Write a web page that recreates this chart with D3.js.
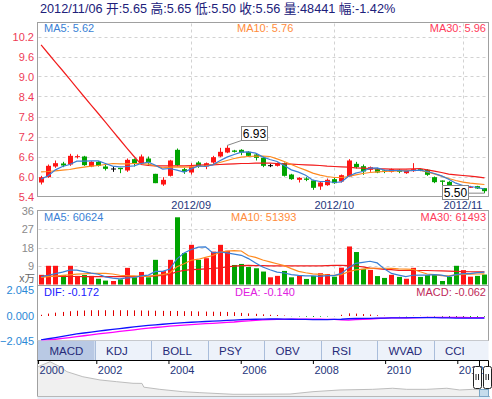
<!DOCTYPE html>
<html>
<head>
<meta charset="utf-8">
<script src="https://cdn.jsdelivr.net/npm/d3@7"></script>
<style>
body { margin: 0; background: #fff; }
svg { display: block; font-family: "Liberation Sans", Arial, "Noto Sans CJK SC", sans-serif; }
</style>
</head>
<body>
<svg id="chart"></svg>
<script>
// trading days shown in the window
var dates = [
  "2012-08-03",
  "2012-08-06","2012-08-07","2012-08-08","2012-08-09","2012-08-10",
  "2012-08-13","2012-08-14","2012-08-15","2012-08-16","2012-08-17",
  "2012-08-20","2012-08-21","2012-08-22","2012-08-23","2012-08-24",
  "2012-08-27","2012-08-28","2012-08-29","2012-08-30","2012-08-31",
  "2012-09-03","2012-09-04","2012-09-05","2012-09-06","2012-09-07",
  "2012-09-10","2012-09-11","2012-09-12","2012-09-13","2012-09-14",
  "2012-09-17","2012-09-18","2012-09-19","2012-09-20","2012-09-21",
  "2012-09-24","2012-09-25","2012-09-26","2012-09-27","2012-09-28",
  "2012-10-08","2012-10-09","2012-10-10","2012-10-11","2012-10-12",
  "2012-10-15","2012-10-16","2012-10-17","2012-10-18","2012-10-19",
  "2012-10-22","2012-10-23","2012-10-24","2012-10-25","2012-10-26",
  "2012-10-29","2012-10-30","2012-10-31",
  "2012-11-01","2012-11-02","2012-11-05","2012-11-06"
]

var opens = [5.82,5.98,6.30,6.39,6.36,6.59,6.60,6.30,6.44,6.30,
             6.24,6.26,6.18,6.52,6.40,6.54,6.08,5.76,6.02,6.80,
             6.22,6.12,6.42,6.30,6.42,6.60,6.72,6.78,6.80,6.74,
             6.66,6.56,6.34,6.32,6.40,6.06,5.90,5.94,5.88,5.70,
             5.74,5.92,5.85,6.00,6.38,6.31,6.20,6.22,6.18,6.14,
             6.20,6.10,6.16,6.22,6.20,5.98,5.88,5.84,5.73,5.63,
             5.68,5.71,5.65]
var highs = [6.02,6.36,6.48,6.44,6.68,6.66,6.62,6.46,6.46,6.36,
             6.30,6.26,6.54,6.54,6.66,6.60,6.08,5.98,6.50,6.84,
             6.26,6.40,6.46,6.42,6.62,6.86,6.93,6.80,6.82,6.76,
             6.70,6.60,6.38,6.42,6.42,6.08,5.98,5.98,5.90,5.84,
             5.94,5.98,6.06,6.52,6.44,6.36,6.30,6.26,6.20,6.24,
             6.22,6.20,6.40,6.24,6.22,6.00,5.88,5.86,5.74,5.72,
             5.72,5.72,5.65]
var lows = [5.76,5.96,6.26,6.28,6.32,6.54,6.32,6.28,6.30,6.18,
            6.14,6.10,6.14,6.30,6.38,6.32,5.80,5.72,6.00,6.30,
            6.08,6.06,6.26,6.22,6.38,6.58,6.70,6.72,6.64,6.60,
            6.48,6.28,6.28,6.30,6.00,5.90,5.82,5.86,5.60,5.60,
            5.72,5.78,5.82,5.98,6.24,6.05,6.14,6.10,6.10,6.12,
            6.10,6.08,6.14,6.16,6.02,5.80,5.74,5.64,5.58,5.60,
            5.66,5.63,5.50]
var closes = [5.98,6.32,6.40,6.33,6.62,6.61,6.34,6.44,6.32,6.23,
              6.24,6.22,6.50,6.40,6.60,6.42,5.80,5.90,6.48,6.34,
              6.14,6.30,6.32,6.40,6.58,6.74,6.86,6.74,6.72,6.62,
              6.56,6.32,6.34,6.40,6.02,5.92,5.96,5.90,5.66,5.82,
              5.90,5.80,6.04,6.48,6.28,6.15,6.28,6.12,6.14,6.22,
              6.14,6.18,6.22,6.18,6.05,5.83,5.84,5.68,5.60,5.71,
              5.69,5.64,5.56]
// volume in units of 10,000 shares (x万)
var volumes = [4.7,9.1,9.1,4.6,9.1,4.2,4.6,4.2,2.8,1.9,
               1.7,2.5,8.1,3.5,6.1,3.5,12.0,6.5,12.0,32.7,
               15.3,19.3,12.0,12.8,16.0,19.3,16.4,9.5,10.0,8.5,
               7.9,6.3,3.5,4.2,6.6,3.5,4.2,2.7,4.2,5.5,
               5.1,3.8,8.2,18.5,15.8,7.6,7.1,4.1,3.2,4.7,
               3.7,2.8,8.1,3.7,4.6,4.7,1.7,3.7,9.1,7.0,
               3.8,4.2,4.8441]

var ma5 = [5.92,6.02,6.20,6.30,6.36,6.46,6.46,6.47,6.47,6.39,
           6.31,6.29,6.30,6.32,6.39,6.43,6.34,6.22,6.24,6.19,
           6.13,6.23,6.32,6.30,6.35,6.47,6.58,6.66,6.73,6.74,
           6.70,6.59,6.51,6.45,6.33,6.20,6.13,6.04,5.89,5.85,
           5.85,5.82,5.84,6.01,6.10,6.15,6.25,6.26,6.19,6.18,
           6.18,6.16,6.18,6.19,6.15,6.09,6.02,5.92,5.80,5.73,
           5.70,5.67,5.62]
var ma10 = [6.14,6.15,6.17,6.19,6.21,6.25,6.28,6.31,6.33,6.36,
            6.39,6.38,6.38,6.39,6.39,6.37,6.32,6.26,6.28,6.29,
            6.28,6.29,6.30,6.32,6.36,6.42,6.48,6.54,6.58,6.60,
            6.61,6.61,6.60,6.53,6.45,6.36,6.27,6.19,6.10,6.04,
            6.00,5.97,5.97,6.00,6.05,6.09,6.12,6.14,6.15,6.16,
            6.17,6.18,6.18,6.18,6.14,6.08,6.01,5.94,5.88,5.83,
            5.80,5.78,5.76]
var ma30 = [9.95,9.69,9.43,9.18,8.92,8.66,8.40,8.14,7.89,7.63,
            7.37,7.11,6.85,6.60,6.36,6.33,6.32,6.32,6.32,6.32,
            6.32,6.33,6.34,6.35,6.35,6.36,6.37,6.38,6.39,6.39,
            6.40,6.40,6.40,6.39,6.38,6.37,6.36,6.35,6.34,6.33,
            6.31,6.30,6.29,6.28,6.26,6.25,6.24,6.23,6.23,6.22,
            6.22,6.22,6.23,6.24,6.20,6.16,6.12,6.07,6.05,6.03,
            6.01,5.99,5.96]

var vma5 = [3.8,4.5,5.3,6.0,7.0,7.0,6.3,5.5,5.0,3.7,
            3.1,2.7,3.2,3.4,4.2,4.6,6.4,6.4,7.5,12.5,
            15.3,17.0,18.2,18.3,15.4,15.8,15.4,14.8,14.2,12.6,
            10.5,8.5,7.2,6.0,5.6,4.8,4.4,4.2,4.2,4.0,
            4.3,4.3,5.4,8.2,10.3,10.8,11.3,10.5,7.6,5.4,
            4.6,3.8,4.5,4.6,4.6,4.8,4.6,3.8,4.8,5.3,
            5.3,5.8,6.0624]
var vma10 = [3.5,3.8,4.1,4.4,4.7,5.0,5.2,5.4,5.4,5.4,
             5.1,4.5,4.3,4.2,4.0,3.9,4.5,4.8,5.6,8.6,
             10.1,11.8,12.3,13.2,14.1,15.6,16.2,16.5,16.3,14.0,
             13.2,11.9,11.0,10.1,9.2,7.7,6.4,5.7,5.2,4.9,
             4.6,4.4,4.8,6.2,7.1,7.5,7.8,7.9,7.9,7.8,
             7.6,7.5,7.4,6.2,5.1,4.8,4.3,4.2,4.7,4.9,
             5.0,5.1,5.1393]
var vma30 = [4.2,4.1,4.0,3.9,3.9,3.9,3.8,3.8,3.8,3.8,
             3.8,3.8,3.8,3.8,3.9,4.0,4.2,4.4,4.9,6.2,
             6.9,7.2,7.4,7.6,7.8,8.1,8.6,8.9,9.2,9.3,
             9.2,9.2,9.1,9.1,9.1,9.1,9.1,9.1,9.1,9.1,
             9.2,9.3,9.3,9.2,9.0,8.6,8.0,7.7,7.4,7.2,
             6.9,6.8,6.8,6.8,6.8,6.7,6.6,6.5,6.4,6.3,
             6.2,6.15,6.1493]

var dif = [-2.00,-1.90,-1.80,-1.70,-1.60,-1.50,-1.42,-1.34,-1.26,-1.19,
           -1.12,-1.05,-0.98,-0.91,-0.84,-0.79,-0.74,-0.69,-0.64,-0.60,
           -0.56,-0.52,-0.49,-0.46,-0.43,-0.40,-0.37,-0.34,-0.31,-0.29,
           -0.27,-0.26,-0.25,-0.25,-0.26,-0.27,-0.28,-0.29,-0.30,-0.30,
           -0.30,-0.29,-0.27,-0.23,-0.21,-0.20,-0.19,-0.18,-0.17,-0.16,
           -0.16,-0.15,-0.14,-0.13,-0.13,-0.14,-0.15,-0.16,-0.17,-0.17,
           -0.17,-0.17,-0.172]
var dea = [-2.04,-2.00,-1.94,-1.87,-1.80,-1.72,-1.65,-1.58,-1.50,-1.43,
           -1.36,-1.29,-1.22,-1.15,-1.07,-1.01,-0.96,-0.90,-0.85,-0.81,
           -0.76,-0.72,-0.68,-0.64,-0.61,-0.57,-0.54,-0.50,-0.44,-0.40,
           -0.36,-0.33,-0.30,-0.29,-0.28,-0.26,-0.26,-0.26,-0.26,-0.27,
           -0.28,-0.28,-0.32,-0.34,-0.31,-0.28,-0.25,-0.21,-0.18,-0.16,
           -0.15,-0.135,-0.15,-0.14,-0.12,-0.115,-0.115,-0.115,-0.12,-0.125,
           -0.13,-0.135,-0.140]
var macd = [0.10,0.20,0.28,0.34,0.40,0.44,0.46,0.48,0.48,0.48,
            0.48,0.48,0.48,0.47,0.46,0.45,0.44,0.43,0.42,0.42,
            0.40,0.40,0.38,0.37,0.36,0.35,0.34,0.32,0.26,0.22,
            0.18,0.14,0.10,0.08,0.04,-0.02,-0.04,-0.06,-0.08,-0.06,
            -0.04,-0.02,0.10,0.22,0.20,0.16,0.12,0.06,0.02,0.00,
            -0.02,-0.03,0.02,0.02,-0.02,-0.05,-0.07,-0.09,-0.10,-0.09,
            -0.08,-0.07,-0.062]

var priceTicks = [5.4, 6.0, 6.6, 7.2, 7.8, 8.4, 9.0, 9.6, 10.2]
var volTicks = [9, 18, 27, 36]
var macdTicks = [-2.045, 0, 2.045]
var monthTicks = ["2012-09-03", "2012-10-08", "2012-11-01"]
var monthLabels = ["2012/09", "2012/10", "2012/11"]
var tabs = ["MACD", "KDJ", "BOLL", "PSY", "OBV", "RSI", "WVAD", "CCI"]

// long-range overview under the tabs
var navDates = ["2000-05-22","2000-09-20","2000-12-28","2001-03-10","2001-08-18","2002-02-08",
                "2002-07-27","2003-01-07","2003-04-08","2003-04-27","2003-10-05","2004-05-25",
                "2004-11-14","2005-10-15","2006-04-05","2007-05-15","2008-01-02","2008-10-01",
                "2009-08-28","2010-03-18","2010-08-07","2011-02-27","2011-09-17","2012-01-26",
                "2012-06-06","2012-11-06"]
var navValues = [32.6,38.1,32.6,27.0,21.4,17.8,15.9,14.1,14.0,9.8,7.4,4.8,
                 3.7,1.9,1.9,2.2,4.8,6.7,7.4,8.6,7.4,7.4,8.6,6.7,7.4,6.7]
var navTicks = ["2000-05-22","2002-01-01","2004-01-01","2006-01-01","2008-01-01","2010-01-01","2012-01-01"]

var W = 492, H = 399
var left = 37.5, right = 488.5
var panel = {
    price: {top: 22.5, bottom: 196.5},
    vol: {top: 210.5, bottom: 285.5},
    macd: {top: 285.5, bottom: 340.5}
}
var upColor = "#ff1414", downColor = "#00a400"
var gridColor = "#d2d2d2", borderColor = "#a0a0a0"

var svg = d3.select("#chart").attr("width", W).attr("height", H)

var idx = d3.range(dates.length)
var x = d3.scaleBand().domain(dates).range([37.5, 488]).paddingInner(0.3).paddingOuter(0.15)
var cx = i => x(dates[i]) + x.bandwidth() / 2

var y = d3.scaleLinear().domain([5.4, 10.2]).range([196.5, 36.5])
var yv = d3.scaleLinear().domain([0, 36]).range([284.5, 210.5])
var ym = d3.scaleLinear().domain([-2.045, 2.045]).range([340.5, 291.5])

var isUp = i => closes[i] >= opens[i]
var last = dates.length - 1

// header line
var pct = (closes[last] - closes[last - 1]) / closes[last - 1] * 100
svg.append("text")
    .attr("x", 40).attr("y", 12.5)
    .attr("font-size", 12.7).attr("fill", "#20207a")
    .text(dates[last].replace(/-/g, "/") + " 开:" + opens[last].toFixed(2) + " 高:" + highs[last].toFixed(2)
        + " 低:" + lows[last].toFixed(2) + " 收:" + closes[last].toFixed(2)
        + " 量:" + Math.round(volumes[last] * 10000) + " 幅:" + pct.toFixed(2) + "%")

// panel frames
svg.append("rect").attr("x", left).attr("y", panel.price.top)
    .attr("width", right - left).attr("height", panel.price.bottom - panel.price.top)
    .attr("fill", "#fff").attr("stroke", borderColor)
svg.append("rect").attr("x", left).attr("y", panel.vol.top)
    .attr("width", right - left).attr("height", panel.macd.bottom - panel.vol.top)
    .attr("fill", "#fff").attr("stroke", borderColor)
svg.append("line").attr("x1", left).attr("x2", right)
    .attr("y1", panel.vol.bottom).attr("y2", panel.vol.bottom).attr("stroke", borderColor)

// grid
var grid = svg.append("g").attr("stroke", gridColor).attr("stroke-dasharray", "3,3")
grid.selectAll(".hp").data(priceTicks.slice(1)).enter().append("line")
    .attr("x1", left + 1).attr("x2", right - 1)
    .attr("y1", d => Math.round(y(d)) + 0.5).attr("y2", d => Math.round(y(d)) + 0.5)
grid.selectAll(".hv").data(volTicks.slice(0, 3)).enter().append("line")
    .attr("x1", left + 1).attr("x2", right - 1)
    .attr("y1", d => Math.round(yv(d)) + 0.5).attr("y2", d => Math.round(yv(d)) + 0.5)
monthTicks.forEach(function(m) {
    var gx = Math.round(cx(dates.indexOf(m))) + 0.5
    grid.append("line").attr("x1", gx).attr("x2", gx).attr("y1", panel.price.top + 1).attr("y2", panel.price.bottom)
    grid.append("line").attr("x1", gx).attr("x2", gx).attr("y1", panel.vol.top + 1).attr("y2", panel.vol.bottom)
})

// axes
var priceAxis = svg.append("g").attr("transform", "translate(37,0)")
    .call(d3.axisLeft(y).tickValues(priceTicks).tickFormat(d3.format(".1f")).tickSize(0).tickPadding(3))
var volAxis = svg.append("g").attr("transform", "translate(37,0)")
    .call(d3.axisLeft(yv).tickValues(volTicks).tickFormat(d3.format("d")).tickSize(0).tickPadding(3))
var macdAxis = svg.append("g").attr("transform", "translate(37,0)")
    .call(d3.axisLeft(ym).tickValues(macdTicks).tickFormat(d3.format(".3f")).tickSize(0).tickPadding(3))
;[priceAxis, volAxis, macdAxis].forEach(a => {
    a.select(".domain").remove()
    a.selectAll("text").attr("font-family", null).attr("font-size", 11)
})
priceAxis.selectAll("text").attr("fill", "#ee3a55")
volAxis.selectAll("text").attr("fill", "#8a8a8a")
macdAxis.selectAll("text").attr("fill", "#2a88d6")
macdAxis.selectAll(".tick").filter(d => d > 0).attr("transform", "translate(0,290.5)")

svg.append("text").attr("x", 35).attr("y", 281.5).attr("text-anchor", "end")
    .attr("font-size", 10.5).attr("fill", "#666").text("x万")

// month labels
svg.selectAll(".mlab").data(monthTicks).enter().append("text")
    .attr("x", d => cx(dates.indexOf(d)))
    .attr("y", 208.5).attr("text-anchor", "middle")
    .attr("font-size", 11).attr("fill", "#25357c")
    .text((d, i) => monthLabels[i])

// candles
var candles = svg.append("g").selectAll("g").data(idx).enter().append("g")
    .attr("fill", i => opens[i] === closes[i] ? "#000" : isUp(i) ? upColor : downColor)
    .attr("stroke", i => opens[i] === closes[i] ? "#000" : isUp(i) ? upColor : downColor)
candles.append("line")
    .attr("x1", i => Math.round(cx(i)) + 0.5).attr("x2", i => Math.round(cx(i)) + 0.5)
    .attr("y1", i => y(highs[i])).attr("y2", i => y(lows[i]))
candles.append("rect")
    .attr("stroke", "none")
    .attr("x", i => Math.round(cx(i)) - 2).attr("width", 5)
    .attr("y", i => y(Math.max(opens[i], closes[i])))
    .attr("height", i => Math.max(1, Math.abs(y(opens[i]) - y(closes[i]))))

// price moving averages
var priceLine = arr => d3.line().x(i => cx(i)).y(i => y(arr[i]))(idx)
;[[ma30, "#f21c1c"], [ma10, "#ff8a1e"], [ma5, "#3a7fd5"]].forEach(function(p) {
    svg.append("path").attr("d", priceLine(p[0])).attr("fill", "none")
        .attr("stroke", p[1]).attr("stroke-width", 1.2)
})

// high / low markers
function marker(i, value, boxX, boxY, cornerX, cornerY) {
    svg.append("line").attr("x1", cx(i)).attr("y1", y(value))
        .attr("x2", cornerX).attr("y2", cornerY).attr("stroke", "#888")
    svg.append("rect").attr("x", boxX).attr("y", boxY).attr("width", 26).attr("height", 14)
        .attr("fill", "#fff").attr("stroke", "#888")
    svg.append("text").attr("x", boxX + 13).attr("y", boxY + 11.5).attr("text-anchor", "middle")
        .attr("font-size", 12).attr("fill", "#000").text(value.toFixed(2))
}
var hi = d3.maxIndex(highs), lo = d3.minIndex(lows)
var hx = Math.round(cx(hi) + 14) + 0.5, hy = Math.round(y(highs[hi]) - 20) + 0.5
marker(hi, highs[hi], hx, hy, hx, hy + 14)
var lx = Math.round(cx(lo) - 42) + 0.5, ly = Math.round(y(lows[lo]) - 8) + 0.5
marker(lo, lows[lo], lx, ly, lx + 26, y(lows[lo]))

// legends
function legend(txt, xPos, yPos, color, anchor) {
    svg.append("text").attr("x", xPos).attr("y", yPos).attr("text-anchor", anchor || "start")
        .attr("font-size", 11).attr("fill", color).text(txt)
}
legend("MA5: " + ma5[last].toFixed(2), 44, 31.5, "#3a7fd5")
legend("MA10: " + ma10[last].toFixed(2), 237, 31.5, "#ff8c3a")
legend("MA30: " + ma30[last].toFixed(2), 486, 31.5, "#ff3a5a", "end")

// volume bars
svg.append("g").selectAll("rect").data(idx).enter().append("rect")
    .attr("x", i => Math.round(cx(i)) - 2).attr("width", 5)
    .attr("y", i => yv(volumes[i]))
    .attr("height", i => yv(0) - yv(volumes[i]))
    .attr("fill", i => isUp(i) ? upColor : downColor)
var volLine = arr => d3.line().x(i => cx(i)).y(i => yv(arr[i]))(idx)
;[[vma30, "#f21c1c"], [vma10, "#ff8a1e"], [vma5, "#3a7fd5"]].forEach(function(p) {
    svg.append("path").attr("d", volLine(p[0])).attr("fill", "none")
        .attr("stroke", p[1]).attr("stroke-width", 1.2)
})
legend("MA5: " + Math.round(vma5[last] * 10000), 44, 220.5, "#3a7fd5")
legend("MA10: " + Math.round(vma10[last] * 10000), 231, 220.5, "#ff8c3a")
legend("MA30: " + Math.round(vma30[last] * 10000), 486, 220.5, "#ff3a5a", "end")

// MACD
svg.append("g").selectAll("line").data(idx).enter().append("line")
    .attr("x1", i => Math.round(cx(i)) + 0.5).attr("x2", i => Math.round(cx(i)) + 0.5)
    .attr("y1", ym(0)).attr("y2", i => ym(macd[i]))
    .attr("stroke", i => macd[i] >= 0 ? "#e00000" : "#00a000")
var macdLine = arr => d3.line().x(i => cx(i)).y(i => ym(arr[i]))(idx)
svg.append("path").attr("d", macdLine(dea)).attr("fill", "none").attr("stroke", "#ff00ff").attr("stroke-width", 1.3)
svg.append("path").attr("d", macdLine(dif)).attr("fill", "none").attr("stroke", "#1010ff").attr("stroke-width", 1.3)
legend("DIF: " + dif[last].toFixed(3), 44, 295.5, "#2020ff")
legend("DEA: " + dea[last].toFixed(3), 235, 295.5, "#e020e0")
legend("MACD: " + macd[last].toFixed(3), 486, 295.5, "#c02a5a", "end")

// indicator tabs
var tabW = 56.5
svg.append("rect").attr("x", left).attr("y", 340.5).attr("width", right - left).attr("height", 19.5)
    .attr("fill", "#edf2fa")
svg.append("rect").attr("x", 38).attr("y", 341).attr("width", tabW).attr("height", 19).attr("fill", "#b9c9e4")
svg.selectAll(".tabsep").data(tabs.slice(1)).enter().append("line")
    .attr("x1", (d, i) => Math.round(38 + (i + 1) * tabW) + 0.5).attr("x2", (d, i) => Math.round(38 + (i + 1) * tabW) + 0.5)
    .attr("y1", 341).attr("y2", 360).attr("stroke", "#a9bddb")
svg.selectAll(".tablab").data(tabs).enter().append("text")
    .attr("x", (d, i) => 38 + i * tabW + 11.5).attr("y", 355)
    .attr("font-size", 11.5).attr("fill", "#262a78").text(d => d)
svg.append("line").attr("x1", left).attr("x2", left).attr("y1", 340.5).attr("y2", 396.5).attr("stroke", borderColor)

// overview navigator
var parse = d3.timeParse("%Y-%m-%d")
var nx = d3.scaleTime().domain([parse("2002-01-01"), parse("2012-01-01")]).range([96.3, 457.3])
var ny = d3.scaleLinear().domain([0, 40]).range([396, 360])
svg.append("path")
    .attr("d", d3.area().x((d, i) => nx(parse(d))).y0(396).y1((d, i) => ny(navValues[i]))(navDates))
    .attr("fill", "#f0f0f0")
svg.append("path")
    .attr("d", d3.line().x((d, i) => nx(parse(d))).y((d, i) => ny(navValues[i]))(navDates))
    .attr("fill", "none").attr("stroke", "#bdbdbd")
svg.append("line").attr("x1", left).attr("x2", 490).attr("y1", 396.5).attr("y2", 396.5).attr("stroke", "#b8b8b8")
svg.append("rect").attr("x", left).attr("y", 397).attr("width", 453).attr("height", 2).attr("fill", "#e6eef8")

var navAxis = svg.append("g").attr("transform", "translate(0,360)")
    .call(d3.axisBottom(nx).tickValues(navTicks.map(parse)).tickFormat(d3.timeFormat("%Y")).tickSize(4).tickPadding(2))
navAxis.select(".domain").remove()
navAxis.selectAll("line").attr("stroke", "#000")
navAxis.selectAll("text").attr("font-family", null).attr("font-size", 11).attr("fill", "#25357c")
    .attr("text-anchor", "start").attr("dx", 1)
svg.append("line").attr("x1", left).attr("x2", right).attr("y1", 360.5).attr("y2", 360.5).attr("stroke", "#000")

// range handles
svg.append("rect").attr("x", 479.5).attr("y", 389.5).attr("width", 9).attr("height", 7)
    .attr("fill", "#c5dcec").attr("stroke", "#7aa6c6")
;[479.5, 488.5].forEach(hxp => {
    svg.append("line").attr("x1", hxp).attr("x2", hxp).attr("y1", 360.5).attr("y2", 366.5).attr("stroke", "#000")
})
;[473.5, 483.5].forEach(hxp => {
    svg.append("rect").attr("x", hxp).attr("y", 366.5).attr("width", 8).attr("height", 22).attr("rx", 2)
        .attr("fill", "#fff").attr("stroke", "#222")
    ;[2.5, 5].forEach(off => {
        svg.append("line").attr("x1", hxp + off).attr("x2", hxp + off).attr("y1", 374).attr("y2", 380)
            .attr("stroke", "#222")
    })
})
</script>
</body>
</html>
